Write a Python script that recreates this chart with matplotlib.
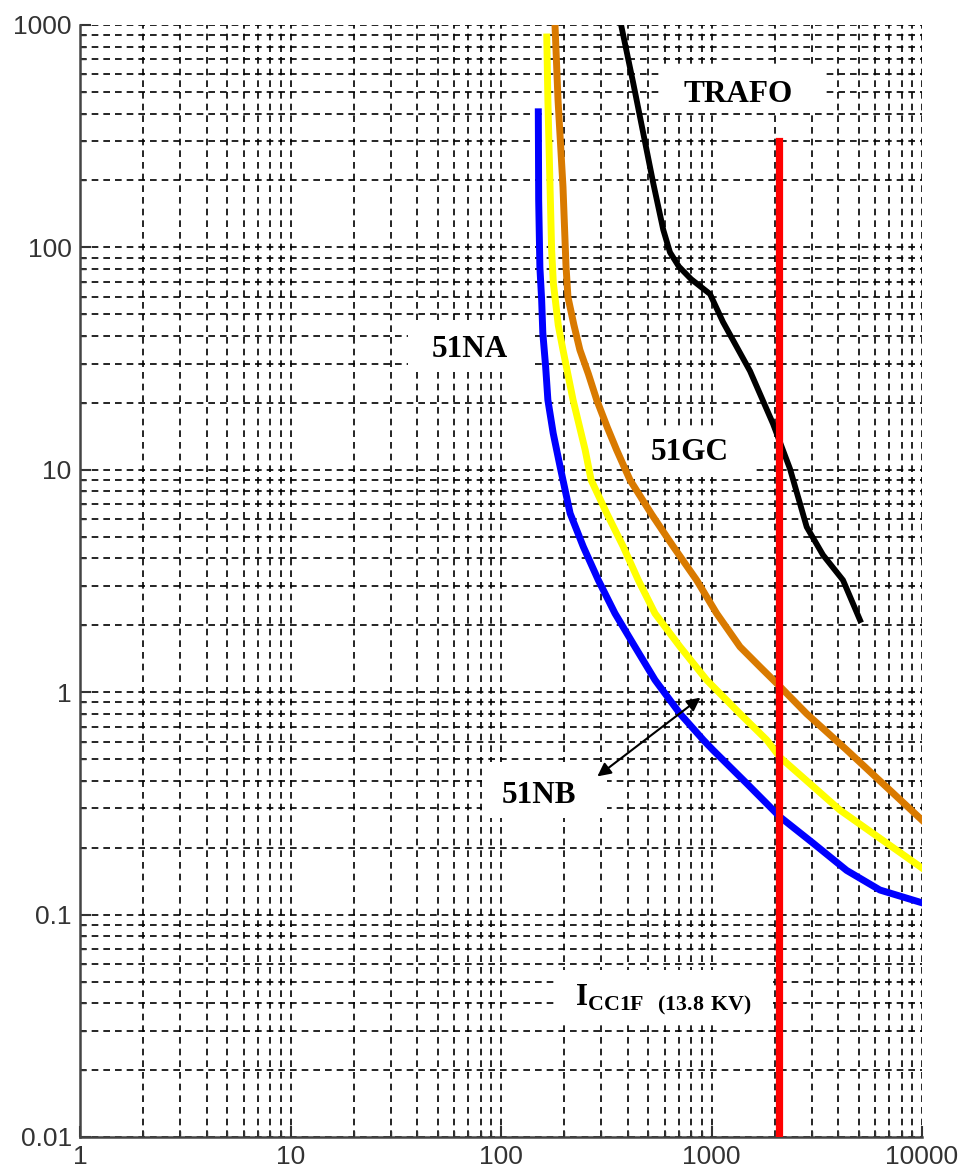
import matplotlib
matplotlib.use('Agg')
import matplotlib.pyplot as plt
from matplotlib.patches import Rectangle

# curvas de tiempo-corriente (corriente A, tiempo s)
na_i = [150.4, 151, 153, 156, 158, 163, 167, 177, 191, 213, 246, 290, 348, 433, 539, 709, 914,
        1017, 1469, 2115, 3048, 4387, 6310, 10000]
na_t = [407, 163, 81.6, 58, 41.2, 29, 20.6, 14.6, 10.3, 6.37, 4.51, 3.19, 2.26, 1.60, 1.135, 0.80,
        0.61, 0.549, 0.389, 0.275, 0.209, 0.158, 0.129, 0.113]

nb_i = [165, 167, 171, 174, 177.3, 180.5, 187, 197, 220, 251, 268, 318, 381, 449, 539, 709, 948,
        1366, 1829, 2115, 4078, 10000]
nb_t = [883, 460, 187, 97, 69, 59.8, 44.8, 34.6, 20.6, 12.3, 9.0, 6.37, 4.51, 3.19, 2.26, 1.60,
        1.135, 0.80, 0.61, 0.51, 0.295, 0.162]

gc_i = [180.5, 186.6, 197, 203.6, 208, 222, 237, 260, 285, 320, 354, 410, 520, 659, 850, 1058,
        1366, 1700, 2115, 2832, 4387, 10000]
gc_t = [1000, 460, 187, 82.5, 59.8, 44.8, 34.6, 27, 20.6, 15.5, 12.3, 9.0, 6.3, 4.51, 3.19, 2.26,
        1.60, 1.30, 1.06, 0.80, 0.55, 0.266]

trafo_i = [372, 425, 529, 590, 635, 700, 800, 984, 1134, 1524, 1960, 2360, 2834, 3386, 4214, 5076]
trafo_t = [1000, 547, 194, 120, 95, 82, 72, 61.7, 46.2, 27.8, 16.1, 10.1, 5.53, 4.14, 3.19, 2.11]

icc_i = [2090, 2090]
icc_t = [0.01, 300]

arrow_i = [280, 908]
arrow_t = [0.411, 0.962]

x_ticks = [1, 10, 100, 1000, 10000]
x_labels = ['1', '10', '100', '1000', '10000']
y_ticks = [0.01, 0.1, 1, 10, 100, 1000]
y_labels = ['0.01', '0.1', '1', '10', '100', '1000']

plt.rcParams['mathtext.fontset'] = 'custom'
plt.rcParams['mathtext.bf'] = 'Liberation Serif:bold'
plt.rcParams['mathtext.rm'] = 'Liberation Serif'

fig = plt.figure(figsize=(9.64, 11.74), dpi=100)
ax = fig.add_axes([80 / 964, 1 - 1137 / 1174, 842 / 964, 1112 / 1174])
ax.set_xscale('log')
ax.set_yscale('log')
ax.set_xlim(1, 10000)
ax.set_ylim(0.01, 1000)

ax.grid(which='both', color='black', linestyle=(0, (4, 3)), linewidth=1.2)
ax.set_axisbelow(True)

ax.plot(na_i, na_t, color='#0000ff', lw=5, zorder=3, solid_joinstyle='round')
ax.plot(nb_i, nb_t, color='#ffff00', lw=5, zorder=3, solid_joinstyle='round')
ax.plot(gc_i, gc_t, color='#d97a00', lw=5, zorder=3, solid_joinstyle='round')
ax.plot(trafo_i, trafo_t, color='black', lw=4.2, zorder=3, solid_joinstyle='round')
ax.plot(icc_i, icc_t, color='#ff0000', lw=5.2, zorder=4)

ax.annotate('', xy=(arrow_i[0], arrow_t[0]), xytext=(arrow_i[1], arrow_t[1]),
            arrowprops=dict(arrowstyle='<|-|>', color='black', lw=1.5, mutation_scale=20),
            zorder=5)


# cajas blancas de las etiquetas (px de la imagen original)
def caja(x0, x1, y0, y1):
    r = Rectangle(((x0 - 80) / 842, (1137 - y1) / 1112), (x1 - x0) / 842, (y1 - y0) / 1112,
                  transform=ax.transAxes, facecolor='white', edgecolor='none', zorder=2)
    ax.add_patch(r)


caja(662, 825, 65, 113)
caja(408, 533, 320, 370)
caja(633, 753, 430, 477)
caja(482, 607, 762, 818)
caja(557, 773, 970, 1025)

fuente = dict(family='Liberation Serif', weight='bold', size=22.5, transform=ax.transAxes, zorder=6)
ax.text(0.7815, 0.9308, 'TRAFO', ha='center', va='baseline', **fuente)
ax.text(0.4632, 0.7014, '51NA', ha='center', va='baseline', **fuente)
ax.text(0.7245, 0.6088, '51GC', ha='center', va='baseline', **fuente)
ax.text(0.5451, 0.3004, '51NB', ha='center', va='baseline', **fuente)
ax.text((575 - 80) / 842, 0.1187, r'$\mathbf{I}_{\mathbf{CC1F\ \ (13.8\ KV)}}$',
        ha='left', va='baseline', **fuente)

ax.set_xticks(x_ticks)
ax.set_xticklabels(x_labels)
ax.set_yticks(y_ticks)
ax.set_yticklabels(y_labels)
ax.tick_params(which='both', direction='in', top=False, right=False, colors='#333333')
ax.tick_params(which='major', length=8, width=1.5, labelsize=19, pad=6)
ax.tick_params(which='minor', length=4, width=1, labelleft=False, labelbottom=False)
for lab in ax.get_xticklabels() + ax.get_yticklabels():
    lab.set_family('Liberation Sans')
    lab.set_color('#333333')

for lado in ['top', 'right']:
    ax.spines[lado].set_visible(False)
for lado in ['left', 'bottom']:
    ax.spines[lado].set_color('#444444')
    ax.spines[lado].set_linewidth(1.8)

fig.savefig('out.png', dpi=100)
